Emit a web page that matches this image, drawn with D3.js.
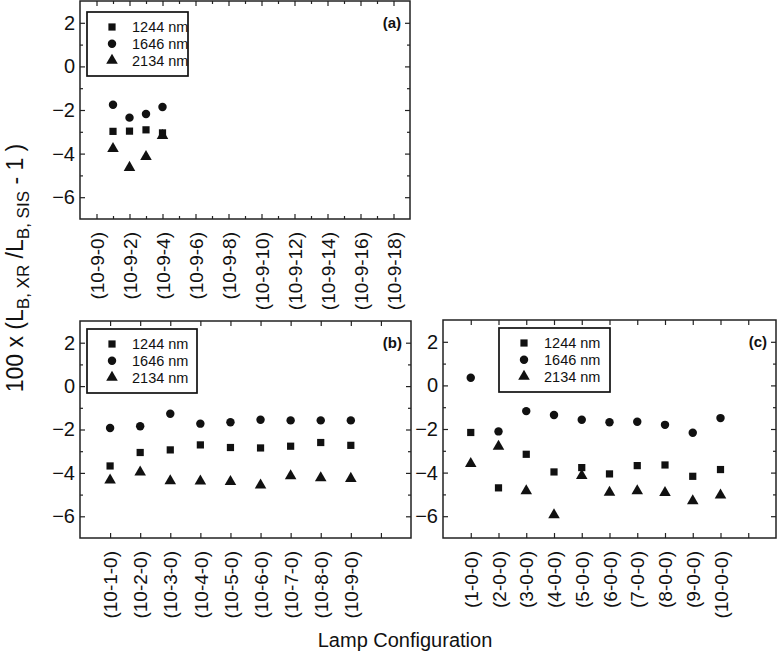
<!DOCTYPE html>
<html lang="en">
<head>
<meta charset="utf-8">
<title>Lamp Configuration</title>
<script src="https://d3js.org/d3.v7.min.js"></script>
<style>
  body { margin: 0; background: #fff; }
  text { font-family: "Liberation Sans", Arial, sans-serif; fill: #111; }
</style>
</head>
<body>
<div id="chart"></div>
<script>
// series names
var seriesNames = ["1244 nm", "1646 nm", "2134 nm"];

// panel (a)
var aTickPos = [0, 2, 4, 6, 8, 10, 12, 14, 16, 18];
var aLabels = ["(10-9-0)", "(10-9-2)", "(10-9-4)", "(10-9-6)", "(10-9-8)",
               "(10-9-10)", "(10-9-12)", "(10-9-14)", "(10-9-16)", "(10-9-18)"];
var aX = [1, 2, 3, 4];
var a1244 = [-2.98, -2.97, -2.91, -3.05];
var a1646 = [-1.76, -2.35, -2.18, -1.86];
var a2134 = [-3.77, -4.64, -4.14, -3.18];

// panel (b)
var bTickPos = [1, 2, 3, 4, 5, 6, 7, 8, 9, 10];
var bLabels = ["(10-1-0)", "(10-2-0)", "(10-3-0)", "(10-4-0)", "(10-5-0)",
               "(10-6-0)", "(10-7-0)", "(10-8-0)", "(10-9-0)", ""];
var bX = [1, 2, 3, 4, 5, 6, 7, 8, 9];
var b1244 = [-3.68, -3.06, -2.94, -2.71, -2.83, -2.85, -2.77, -2.60, -2.73];
var b1646 = [-1.93, -1.85, -1.27, -1.73, -1.67, -1.55, -1.58, -1.58, -1.58];
var b2134 = [-4.34, -3.97, -4.37, -4.38, -4.40, -4.57, -4.14, -4.23, -4.26];

// panel (c)
var cTickPos = [1, 2, 3, 4, 5, 6, 7, 8, 9, 10, 11];
var cLabels = ["(1-0-0)", "(2-0-0)", "(3-0-0)", "(4-0-0)", "(5-0-0)",
               "(6-0-0)", "(7-0-0)", "(8-0-0)", "(9-0-0)", "(10-0-0)", ""];
var cX = [1, 2, 3, 4, 5, 6, 7, 8, 9, 10];
var c1244 = [-2.16, -4.70, -3.16, -3.97, -3.77, -4.06, -3.68, -3.65, -4.17, -3.86];
var c1646 = [0.35, -2.11, -1.18, -1.36, -1.58, -1.69, -1.67, -1.81, -2.17, -1.50];
var c2134 = [-3.59, -2.80, -4.84, -5.94, -4.14, -4.91, -4.84, -4.92, -5.30, -5.04];

var yTicks = [-6, -4, -2, 0, 2];
var yMinor = [-5, -3, -1, 1];

var width = 778, height = 659;
var svg = d3.select("#chart").append("svg")
    .attr("width", width)
    .attr("height", height);

var symbols = [d3.symbolSquare, d3.symbolCircle, d3.symbolTriangle];
var symSizes = [52, 56, 58];

function drawPanel(p) {
    var x = d3.scaleLinear().domain(p.xDomain).range([p.left, p.right]);
    var y = d3.scaleLinear().domain([-7, 3]).range([p.bottom, p.top]);
    var g = svg.append("g");

    // y axes, left labelled, right ticks only
    g.append("g")
        .attr("transform", "translate(" + p.left + ",0)")
        .call(d3.axisLeft(y).tickValues(yTicks).tickSize(-5).tickPadding(5).tickFormat(d3.format("d")))
        .call(function(s) { s.select(".domain").remove(); })
        .selectAll("text").style("font-size", "20px");
    g.append("g")
        .attr("transform", "translate(" + p.left + ",0)")
        .call(d3.axisLeft(y).tickValues(yMinor).tickSize(-3).tickFormat(""))
        .select(".domain").remove();
    g.append("g")
        .attr("transform", "translate(" + p.right + ",0)")
        .call(d3.axisRight(y).tickValues(yTicks).tickSize(-5).tickFormat(""))
        .select(".domain").remove();
    g.append("g")
        .attr("transform", "translate(" + p.right + ",0)")
        .call(d3.axisRight(y).tickValues(yMinor).tickSize(-3).tickFormat(""))
        .select(".domain").remove();

    // x axes
    var bottom = g.append("g")
        .attr("transform", "translate(0," + p.bottom + ")")
        .call(d3.axisBottom(x).tickValues(p.ticks).tickSize(-5)
            .tickFormat(function(d, i) { return p.labels[i]; }));
    bottom.select(".domain").remove();
    bottom.selectAll("text")
        .attr("transform", "rotate(-90)")
        .attr("x", -13)
        .attr("y", 0)
        .attr("dy", "0.35em")
        .style("text-anchor", "end")
        .style("font-size", "19px");
    g.append("g")
        .attr("transform", "translate(0," + p.top + ")")
        .call(d3.axisTop(x).tickValues(p.ticks).tickSize(-5).tickFormat(""))
        .select(".domain").remove();
    if (p.minor) {
        g.append("g")
            .attr("transform", "translate(0," + p.bottom + ")")
            .call(d3.axisBottom(x).tickValues(p.minor).tickSize(-3).tickFormat(""))
            .select(".domain").remove();
        g.append("g")
            .attr("transform", "translate(0," + p.top + ")")
            .call(d3.axisTop(x).tickValues(p.minor).tickSize(-3).tickFormat(""))
            .select(".domain").remove();
    }
    g.selectAll(".tick line").attr("stroke", "#222").attr("stroke-width", 1.2);

    // frame
    g.append("rect")
        .attr("x", p.left).attr("y", p.top)
        .attr("width", p.right - p.left).attr("height", p.bottom - p.top)
        .attr("fill", "none").attr("stroke", "#222").attr("stroke-width", 1.5);

    // points
    p.series.forEach(function(vals, k) {
        g.selectAll(null)
            .data(vals)
            .enter()
            .append("path")
            .attr("d", d3.symbol().type(symbols[k]).size(symSizes[k]))
            .attr("transform", function(d, i) {
                return "translate(" + x(p.xs[i]) + "," + y(d) + ")";
            })
            .attr("fill", "#111");
    });

    // legend
    var lg = g.append("g").attr("transform", "translate(" + p.legX + "," + p.legY + ")");
    lg.append("rect")
        .attr("width", p.legW).attr("height", 64)
        .attr("fill", "#fff").attr("stroke", "#111").attr("stroke-width", 1.7);
    seriesNames.forEach(function(name, k) {
        var ry = 15 + k * 16.7;
        lg.append("path")
            .attr("d", d3.symbol().type(symbols[k]).size(symSizes[k]))
            .attr("transform", "translate(25," + ry + ")")
            .attr("fill", "#111");
        lg.append("text")
            .attr("x", 45).attr("y", ry)
            .attr("dy", "0.36em")
            .style("font-size", "14.5px")
            .text(name);
    });

    // panel tag
    g.append("text")
        .attr("x", p.right - 9)
        .attr("y", y(2))
        .attr("dy", "0.35em")
        .style("text-anchor", "end")
        .style("font-size", "15px")
        .style("font-weight", "bold")
        .text(p.tag);
}

drawPanel({
    left: 80, right: 410, top: 1, bottom: 219,
    xDomain: [-1, 19], ticks: aTickPos, labels: aLabels,
    minor: [1, 3, 5, 7, 9, 11, 13, 15, 17],
    xs: aX, series: [a1244, a1646, a2134],
    legX: 87, legY: 12, legW: 101, tag: "(a)"
});
drawPanel({
    left: 80, right: 411, top: 321, bottom: 538,
    xDomain: [0, 11], ticks: bTickPos, labels: bLabels,
    xs: bX, series: [b1244, b1646, b2134],
    legX: 87, legY: 329, legW: 110, tag: "(b)"
});
drawPanel({
    left: 443, right: 776, top: 320, bottom: 538,
    xDomain: [0, 12], ticks: cTickPos, labels: cLabels,
    xs: cX, series: [c1244, c1646, c2134],
    legX: 499, legY: 328, legW: 111, tag: "(c)"
});

// axis titles
var yt = svg.append("text")
    .attr("transform", "translate(23,268) rotate(-90)")
    .style("text-anchor", "middle")
    .style("font-size", "23px");
yt.append("tspan").text("100 x (L");
yt.append("tspan").attr("dy", 6).style("font-size", "17px").text("B, XR");
yt.append("tspan").attr("dy", -6).text(" /L");
yt.append("tspan").attr("dy", 6).style("font-size", "17px").text("B, SIS");
yt.append("tspan").attr("dy", -6).text(" - 1 )");

svg.append("text")
    .attr("x", 405)
    .attr("y", 647)
    .style("text-anchor", "middle")
    .style("font-size", "20px")
    .text("Lamp Configuration");
</script>
</body>
</html>
